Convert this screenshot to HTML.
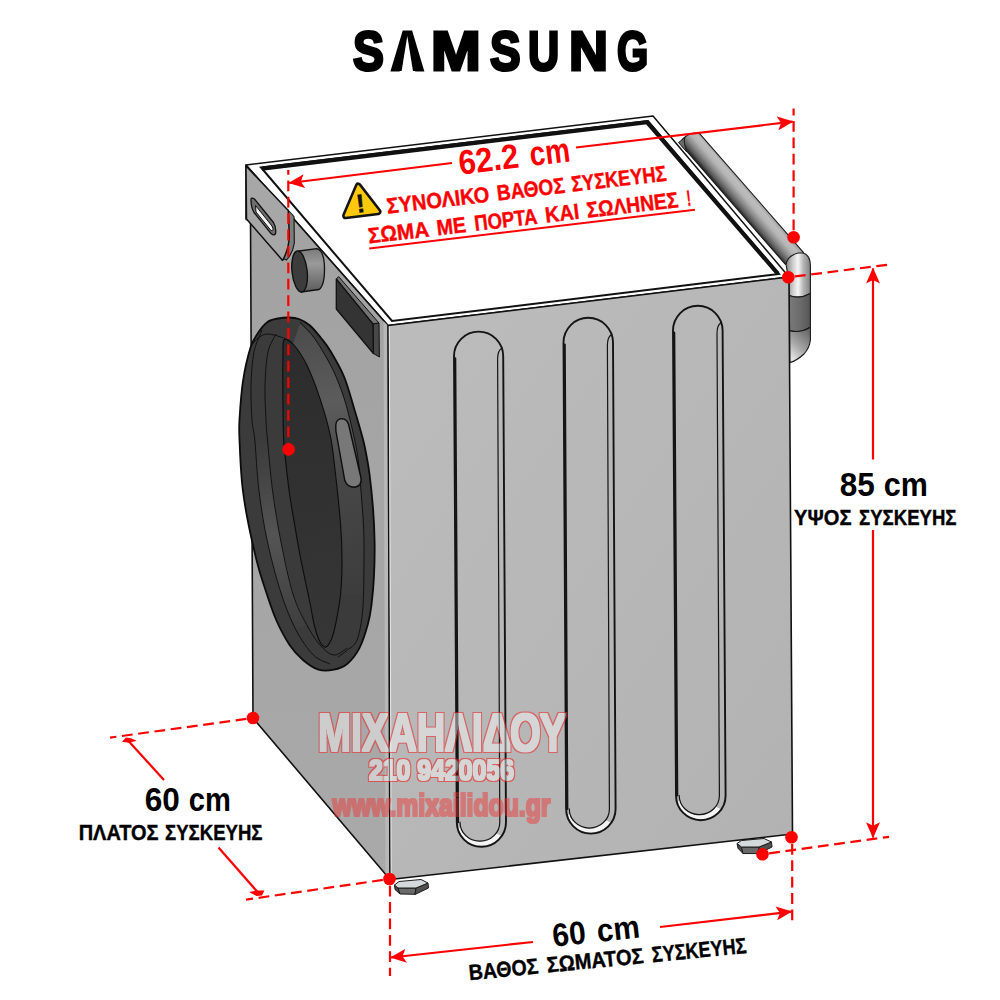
<!DOCTYPE html>
<html lang="el">
<head>
<meta charset="utf-8">
<title>Samsung - Διαστάσεις συσκευής</title>
<style>
html,body{margin:0;padding:0;background:#fff;}
body{width:1000px;height:1000px;overflow:hidden;position:relative;}
svg{position:absolute;left:0;top:0;display:block;}
text{font-family:"Liberation Sans",sans-serif;font-weight:bold;}
.red{fill:#f00;}
.rl{stroke:#f00;stroke-width:2.2;fill:none;}
.rd{stroke:#f00;stroke-width:2.2;fill:none;stroke-dasharray:10.8 5.6;}
.k{stroke:#111;stroke-width:1.6;fill:none;stroke-linejoin:round;stroke-linecap:round;}
.logo{position:absolute;left:0;top:18.7px;width:1000px;height:64px;white-space:nowrap;font:bold 56.4px/64px "Liberation Sans",sans-serif;color:#000;-webkit-text-stroke:3px #000;}
.logo span{display:inline-block;width:0;transform-origin:0 0;white-space:pre;vertical-align:top;}
.abar{position:absolute;left:396px;top:33px;width:23px;height:38.4px;background:#000;clip-path:polygon(50% 0,100% 100%,0 100%);}
.abar2{position:absolute;left:401.3px;top:36px;width:12px;height:37px;background:#fff;clip-path:polygon(50% 0,100% 100%,0 100%);}
</style>
</head>
<body>
<svg width="1000" height="1000" viewBox="0 0 1000 1000">
<defs>
  <linearGradient id="gSide" x1="0" y1="0" x2="1" y2="1">
    <stop offset="0" stop-color="#bcbcbc"/>
    <stop offset="1" stop-color="#b2b2b2"/>
  </linearGradient>
  <linearGradient id="gFront" x1="0" y1="0" x2="0" y2="1">
    <stop offset="0" stop-color="#a2a2a2"/>
    <stop offset="1" stop-color="#a9a9a9"/>
  </linearGradient>
  <linearGradient id="gPipe" gradientUnits="userSpaceOnUse" x1="786" y1="0" x2="811" y2="0">
    <stop offset="0" stop-color="#808080"/>
    <stop offset="0.25" stop-color="#c8c8c8"/>
    <stop offset="0.48" stop-color="#f6f6f6"/>
    <stop offset="0.7" stop-color="#b4b4b4"/>
    <stop offset="1" stop-color="#7c7c7c"/>
  </linearGradient>
  <linearGradient id="gPipeD" gradientUnits="userSpaceOnUse" x1="789" y1="0" x2="811" y2="0">
    <stop offset="0" stop-color="#7a7a7a"/>
    <stop offset="0.5" stop-color="#6c6c6c"/>
    <stop offset="1" stop-color="#545454"/>
  </linearGradient>
  <linearGradient id="gPipeB" gradientUnits="userSpaceOnUse" x1="790" y1="356" x2="811" y2="334">
    <stop offset="0" stop-color="#e2e2e2"/>
    <stop offset="0.4" stop-color="#a9a9a9"/>
    <stop offset="1" stop-color="#6a6a6a"/>
  </linearGradient>
  <linearGradient id="gPipeH" gradientUnits="userSpaceOnUse" x1="722" y1="191" x2="738.7" y2="176.7">
    <stop offset="0" stop-color="#262626"/>
    <stop offset="0.14" stop-color="#5a5a5a"/>
    <stop offset="0.36" stop-color="#8c8c8c"/>
    <stop offset="0.6" stop-color="#b6b6b6"/>
    <stop offset="0.8" stop-color="#bdbdbd"/>
    <stop offset="1" stop-color="#9c9c9c"/>
  </linearGradient>
  <linearGradient id="gKnob" x1="0" y1="0" x2="0" y2="1">
    <stop offset="0" stop-color="#7a7a7a"/>
    <stop offset="0.35" stop-color="#9a9a9a"/>
    <stop offset="1" stop-color="#5c5c5c"/>
  </linearGradient>
  <linearGradient id="gBand" gradientUnits="userSpaceOnUse" x1="300" y1="330" x2="360" y2="600">
    <stop offset="0" stop-color="#4c4c4c"/>
    <stop offset="0.28" stop-color="#5c5c5c"/>
    <stop offset="0.55" stop-color="#474747"/>
    <stop offset="1" stop-color="#3c3c3c"/>
  </linearGradient>
  <linearGradient id="gLBand" gradientUnits="userSpaceOnUse" x1="255" y1="440" x2="300" y2="630">
    <stop offset="0" stop-color="#3b3b3b"/>
    <stop offset="0.5" stop-color="#545454"/>
    <stop offset="1" stop-color="#3e3e3e"/>
  </linearGradient>
  <linearGradient id="gGlass" gradientUnits="userSpaceOnUse" x1="290" y1="340" x2="330" y2="640">
    <stop offset="0" stop-color="#2c2c2c"/>
    <stop offset="1" stop-color="#363636"/>
  </linearGradient>
  <filter id="wmA" x="-5%" y="-15%" width="110%" height="130%" color-interpolation-filters="sRGB">
    <feMorphology in="SourceAlpha" operator="dilate" radius="1.1" result="fat"/>
    <feMorphology in="SourceAlpha" operator="dilate" radius="2.3" result="fatter"/>
    <feGaussianBlur in="fatter" stdDeviation="0.7" result="fb"/>
    <feComposite in="fb" in2="fat" operator="out" result="ring"/>
    <feFlood flood-color="#f02020" flood-opacity=".55"/>
    <feComposite in2="ring" operator="in" result="redring"/>
    <feFlood flood-color="#fff" flood-opacity=".43"/>
    <feComposite in2="fat" operator="in" result="whitefill"/>
    <feMerge><feMergeNode in="whitefill"/><feMergeNode in="redring"/></feMerge>
  </filter>
  <filter id="wmB" x="-5%" y="-15%" width="110%" height="130%" color-interpolation-filters="sRGB">
    <feMorphology in="SourceAlpha" operator="dilate" radius="0.6" result="fat"/>
    <feMorphology in="SourceAlpha" operator="dilate" radius="1.6" result="fatter"/>
    <feGaussianBlur in="fatter" stdDeviation="0.6" result="fb"/>
    <feComposite in="fb" in2="fat" operator="out" result="ring"/>
    <feFlood flood-color="#f02020" flood-opacity=".6"/>
    <feComposite in2="ring" operator="in" result="redring"/>
    <feFlood flood-color="#fff" flood-opacity=".43"/>
    <feComposite in2="fat" operator="in" result="whitefill"/>
    <feMerge><feMergeNode in="whitefill"/><feMergeNode in="redring"/></feMerge>
  </filter>
  <filter id="wmC" x="-5%" y="-15%" width="110%" height="130%" color-interpolation-filters="sRGB">
    <feMorphology in="SourceAlpha" operator="dilate" radius="0.9" result="fat"/>
    <feGaussianBlur in="fat" stdDeviation="0.5" result="fb"/>
    <feFlood flood-color="#f03030" flood-opacity=".46"/>
    <feComposite in2="fb" operator="in"/>
  </filter>
  <marker id="arr" viewBox="0 0 16 14" refX="15.2" refY="7" markerWidth="16" markerHeight="14" markerUnits="userSpaceOnUse" orient="auto-start-reverse">
    <path d="M0,0 L16,7 L0,14 L3.6,7 Z" fill="#f00"/>
  </marker>
</defs>
<rect width="1000" height="1000" fill="#fff"/>

<!-- ===== hose / pipe behind the machine ===== -->
<g id="pipe">
  <!-- diagonal pipe -->
  <path d="M683,147 Q678.8,141.5 684.6,137.2 Q692,131.4 699.6,133.6 L803.6,252.6 L785.4,264.4 Z" fill="url(#gPipeH)" stroke="#1a1a1a" stroke-width="1.1" stroke-linejoin="round"/>
  <path d="M678.5,142.5 L685,137.5 Q683,142 686.8,152 Z" fill="#6a6a6a" stroke="#1a1a1a" stroke-width="1"/>
  <!-- elbow: upper light section -->
  <path d="M786,264 Q788,255.5 798,253 L803,253 Q810.4,255 810.4,266 L810.4,293.6 Q800,299.5 789,295.4 L787,270 Z" fill="url(#gPipe)" stroke="#1a1a1a" stroke-width="1.1" stroke-linejoin="round"/>
  <!-- middle dark band -->
  <path d="M789,295.4 Q800,299.5 810.4,293.6 L810.4,327.2 Q800,333.5 789.6,330.6 Z" fill="url(#gPipeD)" stroke="#1a1a1a" stroke-width="1.1" stroke-linejoin="round"/>
  <!-- lower bend -->
  <path d="M789.6,330.6 Q800,333.5 810.4,327.2 L810.4,340 Q809.5,348 804,354 Q797,360.5 789.8,362.6 Z" fill="url(#gPipeB)" stroke="#1a1a1a" stroke-width="1.1" stroke-linejoin="round"/>
</g>

<!-- feet -->
<g id="feet" stroke="#1c1c1c" stroke-width="1" stroke-linejoin="round">
  <path d="M394.5,885 L398,888 L400,894 L395,889.5 Z" fill="#4a4a4a"/>
  <path d="M398,888 L416,888 L415,894.3 L400,894 Z" fill="#6a6a6a"/>
  <path d="M416,888 L428,883 L428.5,888 L415,894.5 Z" fill="#505050"/>
  <path d="M394.5,885 L399,881.5 L421,879.5 L428,883 L416,888 L398,888 Z" fill="#d4d9db"/>
  <path d="M737,843.5 L741.5,847 L743,853.5 L738,848.3 Z" fill="#4a4a4a"/>
  <path d="M741.5,847 L759,847 L758,853.6 L743,853.5 Z" fill="#6a6a6a"/>
  <path d="M759,847 L771.5,842 L772,847 L758,854 Z" fill="#505050"/>
  <path d="M737,843.5 L741.5,840.5 L764,838.5 L771.5,842 L759,847 L741.5,847 Z" fill="#d4d9db"/>
</g>

<!-- ===== machine body ===== -->
<g id="body">
  <!-- top -->
  <path d="M246,165 L653,116 L789,277 L388,325.5 Z" fill="#fff" stroke="#111" stroke-width="1.5" stroke-linejoin="round"/>
  <path d="M261,167.5 L648,121 L779,274 L392,321 Z" fill="none" stroke="#111" stroke-width="2" stroke-linejoin="miter"/>
  <path d="M262,168.6 L647,122.2 L777.8,273.7" fill="none" stroke="#111" stroke-width="4.2" stroke-linejoin="miter"/>
  <!-- front (door side) -->
  <path d="M246,165 L388,325.5 L390,879.5 L253,718 L250.5,222 L246,219 Z" fill="url(#gFront)" stroke="#111" stroke-width="1.6" stroke-linejoin="round"/>
  <path d="M383.5,321 L388,325.5 L390,878 L385.5,873 Z" fill="#bdbdbd" opacity=".75"/>
  <!-- side -->
  <path d="M388,325.5 L789,277 L792.5,834 L390,879.5 Z" fill="url(#gSide)" stroke="#111" stroke-width="1.6" stroke-linejoin="round"/>
  <path d="M389.3,326.5 L391.2,877" stroke="#e8e8e8" stroke-width="1" fill="none"/>
</g>

<!--SLOTS-->
<g id="slots" fill="none" stroke="#141414" stroke-linecap="round">
  <path d="M500.8,835.8 A23.7,23.7 0 0 1 458.5,828.3 L460.1,827.3 A20.5,19.6 0 0 0 496.7,833.4 Z" fill="#f4f4f4" stroke="none"/>
  <path d="M454,356.20000000000005 A24.599999999999994,24.599999999999994 0 0 1 503.2,356.20000000000005 L506.0,822.1999999999999 A24.599999999999994,24.599999999999994 0 0 1 456.8,822.1999999999999 Z" stroke-width="1.9"/>
  <path d="M455.3,358.2 L458.1,822.2" stroke-width="2"/>
  <path d="M502.0,348.2 Q497.6,350.2 497.6,359.2 L499.8,822.2 A19.9,19.0 0 0 1 460.0,822.2" stroke-width="1.2"/>
  <path d="M610.4,822.5 A23.9,23.9 0 0 1 567.8,815.0 L569.4,814.0 A20.6,19.8 0 0 0 606.3,820.2 Z" fill="#f4f4f4" stroke="none"/>
  <path d="M563.5,342.55 A24.75,24.75 0 0 1 613,342.55 L615.6,808.85 A24.75,24.75 0 0 1 566.1,808.85 Z" stroke-width="1.9"/>
  <path d="M564.8,344.6 L567.4,808.9" stroke-width="2"/>
  <path d="M611.8,334.6 Q607.4,336.6 607.4,345.6 L609.4,808.9 A20.0,19.1 0 0 1 569.3,808.9" stroke-width="1.2"/>
  <path d="M720.4,809.1 A23.9,23.9 0 0 1 677.7,801.6 L679.3,800.5 A20.7,19.8 0 0 0 716.3,806.8 Z" fill="#f4f4f4" stroke="none"/>
  <path d="M673,330.6 A24.80000000000001,24.80000000000001 0 0 1 722.6,330.6 L725.6,795.4000000000001 A24.80000000000001,24.80000000000001 0 0 1 676.0,795.4000000000001 Z" stroke-width="1.9"/>
  <path d="M674.3,332.6 L677.3,795.4" stroke-width="2"/>
  <path d="M721.4,322.6 Q717.0,324.6 717.0,333.6 L719.4,795.4 A20.1,19.2 0 0 1 679.2,795.4" stroke-width="1.2"/>
</g>
<!--/SLOTS-->

<!-- drawer, knob, display -->
<g id="panel">
  <path d="M288,210 L294,216.5 L294.3,243 Q293,253 286.5,260 L282,258 Z" fill="#7d7d7d" stroke="#111" stroke-width="1.1" stroke-linejoin="round"/>
  <path d="M246,166 L288.3,210.6 L289.3,236 Q289,249 282.6,260.4 L246.5,219 Z" fill="#a7a7a7" stroke="#111" stroke-width="1.5" stroke-linejoin="round"/>
  <path d="M251,200.5 Q250.6,196.5 254.5,199 L273.5,222.5 Q276.3,227 275.6,233 Q274.8,236.6 271,233.6 L254,212.5 Q251.2,208 251,200.5 Z" fill="#6e6e6e" stroke="#111" stroke-width="1.3"/>
  <path d="M255.5,205.5 L272,226 Q274.5,231.5 271,230.5 L256,212 Z" fill="#f4f4f4" stroke="#111" stroke-width="1"/>
  <!-- knob -->
  <path d="M299,251 L317,248.6 Q324.5,251 324.5,269 Q324.5,286 319,289.5 L301,292 Z" fill="url(#gKnob)" stroke="#111" stroke-width="1.3" stroke-linejoin="round"/>
  <ellipse cx="299.6" cy="271.5" rx="7.6" ry="20.6" fill="#3c3c3c" stroke="#111" stroke-width="1.4" transform="rotate(-6 299.6 271.5)"/>
  <!-- display -->
  <path d="M336.3,279 L338.6,276.6 L379,323 L373,324 Z" fill="#747474" stroke="#111" stroke-width="1" stroke-linejoin="round"/>
  <path d="M373,324 L379,323 L379.4,357 L373.4,353.5 Z" fill="#484848" stroke="#111" stroke-width="1" stroke-linejoin="round"/>
  <path d="M336.3,279 L373,324 L373.4,353.5 L336.3,309 Z" fill="#343434" stroke="#111" stroke-width="1.3" stroke-linejoin="round"/>
</g>

<!--DOOR-->
<g id="door">
  <path d="M278.0,318.5 C281.6,317.8 285.5,317.4 289.0,317.5 C292.5,317.6 295.5,317.7 299.0,319.0 C302.5,320.3 306.3,322.3 310.0,325.5 C313.7,328.7 317.6,333.8 321.0,338.0 C324.4,342.2 326.6,344.6 330.4,351.0 C334.2,357.4 340.0,366.9 344.0,376.5 C348.0,386.1 351.4,399.6 354.2,408.8 C357.0,418.1 359.2,425.5 361.0,432.0 C362.8,438.5 363.6,441.0 365.0,448.0 C366.4,455.0 368.2,464.0 369.5,474.0 C370.8,484.0 372.1,496.7 373.0,508.0 C373.9,519.3 374.4,530.7 374.6,542.0 C374.8,553.3 374.5,565.5 374.0,576.0 C373.5,586.5 372.5,596.9 371.5,605.0 C370.5,613.1 369.8,617.4 367.8,624.6 C365.8,631.8 362.7,641.9 359.3,648.4 C355.9,654.9 351.6,660.2 347.4,663.7 C343.1,667.2 338.6,668.7 333.8,669.7 C329.0,670.7 323.6,671.3 318.5,669.7 C313.4,668.1 307.8,664.1 303.0,660.0 C298.2,655.9 294.1,651.8 289.6,645.0 C285.1,638.2 280.3,629.4 276.0,619.5 C271.7,609.6 267.2,595.4 264.0,585.5 C260.8,575.6 259.3,571.5 256.5,560.0 C253.7,548.5 249.4,529.4 247.0,516.5 C244.6,503.6 243.2,495.2 242.0,482.5 C240.8,469.8 239.9,450.6 239.5,440.0 C239.1,429.4 238.9,428.7 239.5,419.0 C240.1,409.3 241.1,393.5 242.9,381.6 C244.7,369.7 248.0,355.7 250.5,347.6 C253.0,339.5 255.2,337.3 258.0,333.0 C260.8,328.7 264.2,324.4 267.5,322.0 C270.8,319.6 274.4,319.2 278.0,318.5 Z" fill="#3b3b3b" stroke="#0c0c0c" stroke-width="1.8"/>
  <path d="M293.0,344.0 C295.3,347.4 302.1,355.5 306.6,364.6 C311.1,373.7 316.0,386.7 320.0,398.6 C324.0,410.5 327.8,423.4 330.4,436.0 C333.0,448.6 333.8,459.2 335.5,474.0 C337.2,488.8 339.5,510.7 340.6,525.0 C341.7,539.3 342.0,548.5 342.0,560.0 C342.0,571.5 340.8,588.3 340.6,594.0 L362.9,594.0 L364.0,560.0 L363.5,525.0 L361.0,491.0 L358.0,458.0 L352.0,428.0 L344.0,398.0 L334.0,372.0 L322.0,350.0 L312.0,335.0 L300.0,324.0 Z" fill="url(#gBand)"/>
  <path d="M254.8,440.0 C255.5,448.5 256.9,474.0 259.0,491.0 C261.1,508.0 263.8,525.0 267.5,542.0 C271.2,559.0 276.2,578.3 281.0,593.0 C285.8,607.7 293.5,623.8 296.0,630.0 L306.6,624.6 L293.0,594.0 L281.0,542.0 L272.6,491.0 L267.5,440.0 Z" fill="url(#gLBand)"/>
  <path d="M284.0,340.0 C285.7,338.2 289.2,339.9 293.0,344.0 C296.8,348.1 302.1,355.5 306.6,364.6 C311.1,373.7 316.0,386.7 320.0,398.6 C324.0,410.5 327.8,423.4 330.4,436.0 C333.0,448.6 333.8,459.2 335.5,474.0 C337.2,488.8 339.5,510.7 340.6,525.0 C341.7,539.3 342.0,548.5 342.0,560.0 C342.0,571.5 341.7,583.2 340.6,594.0 C339.5,604.8 337.0,617.1 335.5,624.6 C334.0,632.1 333.1,635.3 331.5,639.0 C329.9,642.7 327.9,646.5 326.0,647.0 C324.1,647.5 321.9,645.5 320.0,642.0 C318.1,638.5 316.2,632.5 314.5,626.0 C312.8,619.5 312.4,614.8 310.0,603.0 C307.6,591.2 302.8,569.7 300.0,555.0 C297.2,540.3 294.8,525.8 293.0,515.0 C291.2,504.2 290.3,500.0 289.0,490.0 C287.7,480.0 285.9,464.0 285.0,455.0 C284.1,446.0 283.9,447.7 283.5,436.0 C283.1,424.3 282.9,398.5 282.8,385.0 C282.7,371.5 282.8,362.5 283.0,355.0 C283.2,347.5 282.3,341.8 284.0,340.0 Z" fill="url(#gGlass)" stroke="#0c0c0c" stroke-width="1.1"/>
  <path d="M300.0,322.0 C302.0,324.2 308.3,330.3 312.0,335.0 C315.7,339.7 318.3,343.8 322.0,350.0 C325.7,356.2 330.3,364.0 334.0,372.0 C337.7,380.0 341.0,388.7 344.0,398.0 C347.0,407.3 349.7,418.0 352.0,428.0 C354.3,438.0 356.5,447.5 358.0,458.0 C359.5,468.5 360.1,479.8 361.0,491.0 C361.9,502.2 363.0,513.5 363.5,525.0 C364.0,536.5 364.1,545.8 364.0,560.0 C363.9,574.2 363.9,596.7 362.7,610.0 C361.5,623.3 359.6,633.3 357.0,640.0 C354.4,646.7 350.6,647.2 347.4,650.0 C344.2,652.8 339.6,655.8 338.0,657.0" fill="none" stroke="#111" stroke-width="1"/>
  <path d="M262.0,330.0 C260.7,333.7 255.8,342.8 254.0,352.0 C252.2,361.2 251.3,373.7 251.0,385.0 C250.7,396.3 251.4,410.8 252.0,420.0 C252.6,429.2 253.6,428.2 254.8,440.0 C256.0,451.8 256.9,474.0 259.0,491.0 C261.1,508.0 263.8,525.0 267.5,542.0 C271.2,559.0 276.2,578.3 281.0,593.0 C285.8,607.7 290.6,619.7 296.0,630.0 C301.4,640.3 307.7,649.3 313.4,655.0 C319.1,660.7 327.2,662.5 330.0,664.0" fill="none" stroke="#111" stroke-width="1"/>
  <path d="M276.0,334.0 C274.7,337.0 269.8,343.5 268.0,352.0 C266.2,360.5 265.3,373.7 265.0,385.0 C264.7,396.3 265.6,410.8 266.0,420.0 C266.4,429.2 266.4,428.2 267.5,440.0 C268.6,451.8 270.4,474.0 272.6,491.0 C274.9,508.0 277.6,524.8 281.0,542.0 C284.4,559.2 288.7,580.2 293.0,594.0 C297.3,607.8 302.1,616.1 306.6,624.6 C311.1,633.1 315.5,639.9 320.0,645.0 C324.5,650.1 329.2,654.5 333.8,655.0 C338.4,655.5 345.1,649.2 347.4,648.0" fill="none" stroke="#111" stroke-width="1"/>
  <path d="M252.0,345.0 C253.0,343.8 255.4,339.8 258.0,338.0 C260.6,336.2 263.2,334.0 267.5,334.0 C271.8,334.0 279.4,336.3 283.6,338.0 C287.9,339.7 291.4,343.0 293.0,344.0" fill="none" stroke="#111" stroke-width="1"/>
  <path d="M335.8,425 Q336.2,418.8 342,418.6 Q346.8,419 348.6,424.5 L361,478 Q362.2,486 354.5,487.2 Q347.2,487.2 344.8,480.5 L335.9,431 Z" fill="#787878" stroke="#0c0c0c" stroke-width="1.4"/>
</g>
<!--/DOOR-->


<!-- ===== watermark ===== -->
<g id="wm">
  <text x="442" y="751" text-anchor="middle" font-size="53.5" textLength="248" lengthAdjust="spacingAndGlyphs" fill="#000" filter="url(#wmA)">ΜΙΧΑΗΛΙΔΟΥ</text>
  <text x="441.5" y="780" text-anchor="middle" font-size="29.6" textLength="145" lengthAdjust="spacingAndGlyphs" fill="#000" filter="url(#wmB)">210 9420056</text>
  <text x="441.5" y="816.4" text-anchor="middle" font-size="31" textLength="218" lengthAdjust="spacingAndGlyphs" fill="#000" filter="url(#wmC)">www.mixailidou.gr</text>
</g>

<!-- ===== red dimension lines ===== -->
<g id="dims">
  <!-- top 62.2 -->
  <path class="rd" d="M288.3,170 L288.3,448" stroke-dashoffset="6"/>
  <path class="rd" d="M793.6,108.6 L793.6,236" stroke-dashoffset="4"/>
  <path class="rl" d="M452,163 L289.3,183" marker-end="url(#arr)"/>
  <path class="rl" d="M576,147.5 L792.6,121.6" marker-end="url(#arr)"/>
  <!-- right 85 -->
  <path class="rd" d="M788.3,277.3 L888.6,264.6" stroke-dashoffset="9.7"/>
  <path class="rd" d="M762.5,854.3 L889,836.8" stroke-dashoffset="9.7"/>
  <path class="rl" d="M873,459.5 L873,268.4" marker-end="url(#arr)"/>
  <path class="rl" d="M873,530 L873,837.4" marker-end="url(#arr)"/>
  <!-- bottom 60 -->
  <path class="rd" d="M390,879 L390,976" stroke-dashoffset="9.7"/>
  <path class="rd" d="M792.2,837.2 L792.2,926" stroke-dashoffset="9.7"/>
  <path class="rl" d="M533,942 L391,957.5" marker-end="url(#arr)"/>
  <path class="rl" d="M660,927 L791.4,911.6" marker-end="url(#arr)"/>
  <!-- left 60 -->
  <path class="rd" d="M253,718 L110,737.6" stroke-dashoffset="9.7"/>
  <path class="rd" d="M389.5,879 L246,899.6" stroke-dashoffset="9.7"/>
  <path class="rl" d="M164,780 L128.5,741"/>
  <path d="M122,741.8 L126,737.6 L131,738.2 L136.8,740.8 L129,742.8 Z" fill="#f00"/>
  <path class="rl" d="M218.5,847.5 L259.5,894.2"/>
  <path d="M249,892 L257,890.6 L264.4,890.4 L262,895.6 L256.5,896 Z" fill="#f00"/>
  <!-- dots -->
  <g fill="#f00">
    <circle cx="288.6" cy="449.4" r="6.3"/>
    <circle cx="793.6" cy="237.2" r="6.3"/>
    <circle cx="788.3" cy="277.3" r="6.3"/>
    <circle cx="253" cy="718" r="6.3"/>
    <circle cx="389.5" cy="879" r="6.3"/>
    <circle cx="791.5" cy="837.2" r="6.3"/>
    <circle cx="762.5" cy="854.3" r="6.3"/>
  </g>
</g>

<!-- ===== labels ===== -->
<g id="labels">
  <g transform="rotate(-7 516.5 167.9)"><text class="red" y="167.9" font-size="34.5"><tspan x="459.5" textLength="60.5" lengthAdjust="spacingAndGlyphs">62.2</tspan> <tspan x="531.2" textLength="40.4" lengthAdjust="spacingAndGlyphs">cm</tspan></text></g>
  <g transform="rotate(-6.75 527 197.2)"><text class="red" y="197.2" font-size="22" stroke="#f00" stroke-width=".4"><tspan x="386.5" textLength="103.3" lengthAdjust="spacingAndGlyphs">ΣΥΝΟΛΙΚΟ</tspan> <tspan x="497.5" textLength="68.3" lengthAdjust="spacingAndGlyphs">ΒΑΘΟΣ</tspan> <tspan x="572.5" textLength="95.7" lengthAdjust="spacingAndGlyphs">ΣΥΣΚΕΥΗΣ</tspan></text></g>
  <g transform="rotate(-6.72 530 224.6)"><text class="red" y="224.6" font-size="22" stroke="#f00" stroke-width=".4"><tspan x="367.9" textLength="61.2" lengthAdjust="spacingAndGlyphs">ΣΩΜΑ</tspan> <tspan x="436.8" textLength="29.5" lengthAdjust="spacingAndGlyphs">ΜΕ</tspan> <tspan x="474.8" textLength="63.4" lengthAdjust="spacingAndGlyphs">ΠΟΡΤΑ</tspan> <tspan x="546.2" textLength="34.1" lengthAdjust="spacingAndGlyphs">ΚΑΙ</tspan> <tspan x="587.9" textLength="92.1" lengthAdjust="spacingAndGlyphs">ΣΩΛΗΝΕΣ</tspan> <tspan x="688.5" textLength="4.2" lengthAdjust="spacingAndGlyphs">!</tspan></text></g>
  <path d="M367,229.6 L695,229.2" stroke="#f00" stroke-width="2" transform="rotate(-6.72 530 220)"/>
  <!-- warning icon -->
  <g id="warn">
    <path d="M358.2,186 L378,211.7 L345.6,215.7 Z" fill="#141414" stroke="#141414" stroke-width="7" stroke-linejoin="round"/>
    <path d="M358.2,186 L378,211.7 L345.6,215.7 Z" fill="#ffc90a" stroke="#ffc90a" stroke-width="1.9" stroke-linejoin="round"/>
    <text x="360.3" y="212.2" text-anchor="middle" font-size="25.5" fill="#111" stroke="#111" stroke-width=".5" transform="rotate(-7 360.3 203)">!</text>
  </g>

  <g transform="rotate(0 884 496)"><text y="496" font-size="32.5" fill="#000"><tspan x="839.7" textLength="35.1" lengthAdjust="spacingAndGlyphs">85</tspan> <tspan x="883.7" textLength="44.1" lengthAdjust="spacingAndGlyphs">cm</tspan></text></g>
  <g transform="rotate(0 875.5 525)"><text y="525" font-size="22" fill="#000" stroke="#000" stroke-width=".4"><tspan x="794.1" textLength="57.4" lengthAdjust="spacingAndGlyphs">ΥΨΟΣ</tspan> <tspan x="859.1" textLength="97.4" lengthAdjust="spacingAndGlyphs">ΣΥΣΚΕΥΗΣ</tspan></text></g>
  <g transform="rotate(0 188 811)"><text y="811" font-size="32.5" fill="#000"><tspan x="144.7" textLength="35.1" lengthAdjust="spacingAndGlyphs">60</tspan> <tspan x="188.7" textLength="42.1" lengthAdjust="spacingAndGlyphs">cm</tspan></text></g>
  <g transform="rotate(0 171 839.6)"><text y="839.6" font-size="22" fill="#000" stroke="#000" stroke-width=".4"><tspan x="78.7" textLength="79.8" lengthAdjust="spacingAndGlyphs">ΠΛΑΤΟΣ</tspan> <tspan x="165.1" textLength="97.4" lengthAdjust="spacingAndGlyphs">ΣΥΣΚΕΥΗΣ</tspan></text></g>
  <g transform="rotate(-6.2 596 942.2)"><text y="942.2" font-size="32.5" fill="#000"><tspan x="553.3" textLength="33.4" lengthAdjust="spacingAndGlyphs">60</tspan> <tspan x="598.1" textLength="42.9" lengthAdjust="spacingAndGlyphs">cm</tspan></text></g>
  <g transform="rotate(-5.65 608.5 966.6)"><text y="966.6" font-size="22" fill="#000" stroke="#000" stroke-width=".4"><tspan x="468.9" textLength="69.8" lengthAdjust="spacingAndGlyphs">ΒΑΘΟΣ</tspan> <tspan x="547.3" textLength="97.0" lengthAdjust="spacingAndGlyphs">ΣΩΜΑΤΟΣ</tspan> <tspan x="652.8" textLength="94.9" lengthAdjust="spacingAndGlyphs">ΣΥΣΚΕΥΗΣ</tspan></text></g>
</g>

</svg>

<!-- ===== SAMSUNG logo ===== -->
<div class="logo"><span style="margin-left:353.00px;transform:scaleX(0.822)">S</span><span style="margin-left:37.60px;transform:scaleX(0.807)">A</span><span style="margin-left:40.28px;transform:scaleX(1.060)">M</span><span style="margin-left:58.92px;transform:scaleX(0.814)">S</span><span style="margin-left:38.66px;transform:scaleX(0.768)">U</span><span style="margin-left:40.52px;transform:scaleX(0.958)">N</span><span style="margin-left:47.61px;transform:scaleX(0.712)">G</span></div>
<div class="abar"></div><div class="abar2"></div>
</body>
</html>
